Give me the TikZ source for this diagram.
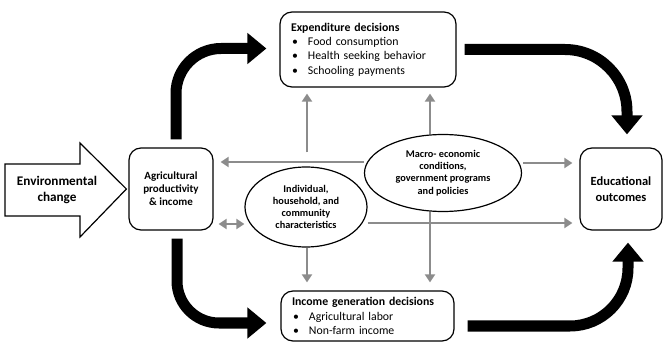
\documentclass[tikz,border=0pt]{standalone}
\usepackage{fontspec}
\setmainfont{Carlito}
\usetikzlibrary{arrows.meta,shapes.geometric}
\definecolor{gline}{HTML}{8C8C8C}
\newcommand\bul{\makebox[17pt][l]{\hspace{1pt}\textbullet}}
\begin{document}
\begin{tikzpicture}[x=1pt,y=-1pt,
  box/.style={draw, line width=1.2pt, rounded corners=12pt},
  listbox/.style={box, inner xsep=11pt, inner ysep=0pt, align=left,
    font=\fontsize{11.8}{14.3}\selectfont},
  oval/.style={draw, ellipse, line width=1.2pt, inner sep=0pt, align=center,
    font=\bfseries\fontsize{10.3}{12.2}\selectfont},
  garrow/.style={draw=gline, line width=2.6pt, -{Triangle[length=8pt,width=10pt]}},
  gdouble/.style={draw=gline, line width=2.6pt, {Triangle[length=8pt,width=10pt]}-{Triangle[length=8pt,width=10pt]}},
  barrow/.style={draw=black, line width=11pt, -{Triangle[length=19pt,width=30pt]}}
]
\useasboundingbox (0,0) rectangle (665,342);

% nodes
\node[box, minimum width=84pt, minimum height=82pt, align=center,
  font=\bfseries\fontsize{11}{13}\selectfont] (agri) at (171,189)
  {Agricultural\\productivity\\\& income};
\node[box, minimum width=82pt, minimum height=82pt, align=center,
  font=\bfseries\fontsize{12.5}{16}\selectfont] (edu) at (621,189)
  {Educational\\outcomes};
\node[listbox, text width=154pt, minimum height=75pt] (exp) at (368,49.5)
  {\textbf{Expenditure decisions}\\ \bul Food consumption\\ \bul Health seeking behavior\\ \bul Schooling payments};
\node[listbox, text width=151pt, minimum height=50pt] (inc) at (367.5,316)
  {\textbf{Income generation decisions}\\ \bul Agricultural labor\\ \bul Non-farm income};
\node[oval, minimum width=122pt, minimum height=80pt] (ind) at (306,207)
  {Individual,\\household, and\\community\\characteristics};
\node[oval, minimum width=157pt, minimum height=77pt] (mac) at (443,173)
  {Macro- economic\\conditions,\\government programs\\and policies};
\node[font=\bfseries\fontsize{13.2}{16}\selectfont, align=center] (env) at (57,190)
  {Environmental\\change};

% big hollow arrow
\draw[line width=1.2pt, line join=miter] (5,164) -- (80,164) -- (80,143)
  -- ([xshift=-2pt]agri.west) -- (80,237) -- (80,216) -- (5,216) -- cycle;

% gray arrows
\draw[garrow] ([yshift=11pt]mac.west) -- ([xshift=7pt,yshift=27pt]agri.east);
\draw[garrow] ([xshift=1pt,yshift=10pt]mac.east) -- ([xshift=-7pt,yshift=26pt]edu.west);
\draw[garrow] ([yshift=-16pt]ind.east) -- ([xshift=-7pt,yshift=-34pt]edu.west);
\draw[gdouble] ([xshift=5pt,yshift=-35pt]agri.east) -- ([yshift=-17pt]ind.west);
\draw[garrow] ([xshift=1pt,yshift=14pt]ind.north) -- ([xshift=1pt,yshift=-6pt]ind.north |- exp.south);
\draw[garrow] ([xshift=-13pt]mac.north) -- ([xshift=-13pt,yshift=-6pt]mac.north |- exp.south);
\draw[garrow] ([xshift=1pt]ind.south) -- ([xshift=1pt,yshift=8pt]ind.south |- inc.north);
\draw[garrow] ([xshift=-13pt]mac.south) -- ([xshift=-13pt,yshift=8pt]mac.south |- inc.north);

% black curved arrows
\draw[barrow, rounded corners=45pt] ([xshift=5pt,yshift=8pt]agri.north) |- ([xshift=-13pt,yshift=1pt]exp.west);
\draw[barrow, rounded corners=42pt] ([xshift=6pt,yshift=-8pt]agri.south) |- ([xshift=-14pt,yshift=-7pt]inc.west);
\draw[barrow, rounded corners=62pt] ([xshift=8pt]exp.east) -| ([xshift=6pt,yshift=13pt]edu.north);
\draw[barrow, rounded corners=58pt] ([xshift=13pt,yshift=-10pt]inc.east) -| ([xshift=7pt,yshift=-12pt]edu.south);
\end{tikzpicture}
\end{document}
